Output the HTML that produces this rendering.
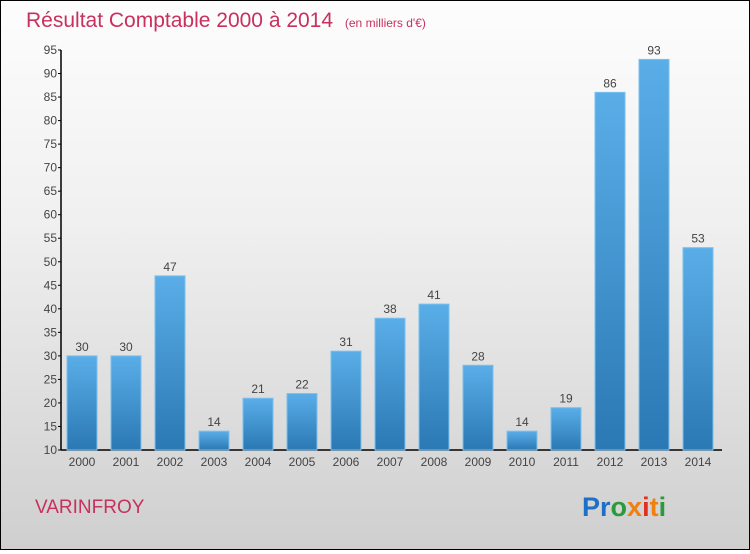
<!DOCTYPE html>
<html><head><meta charset="utf-8"><style>
body{margin:0;width:750px;height:550px;overflow:hidden;font-family:"Liberation Sans",sans-serif}
#wrap{position:relative;width:748px;height:548px;border:1px solid #000;background:linear-gradient(#fdfdfd,#f0f0f0 40%,#cfcfcf)}
</style></head><body>
<div id="wrap">
<svg width="748" height="548" viewBox="1 1 748 548" xmlns="http://www.w3.org/2000/svg">
<defs><linearGradient id="bg" x1="0" y1="0" x2="0" y2="1"><stop offset="0" stop-color="#5aaee8"/><stop offset="1" stop-color="#2a78b4"/></linearGradient></defs>
<text x="26" y="27" font-size="21" fill="#c8305e">Résultat Comptable 2000 à 2014 <tspan font-size="12" dx="6">(en milliers d'€)</tspan></text>
<g id="axes"></g><g id="bars"></g>
<text x="35" y="513" font-size="19" fill="#c8305e">VARINFROY</text>
<text x="582" y="516" font-size="27" font-weight="bold"><tspan fill="#1e6fc8">Pr</tspan><tspan fill="#2a9a3a">o</tspan><tspan fill="#f08010">x</tspan><tspan fill="#e03020">i</tspan><tspan fill="#f08010">t</tspan><tspan fill="#2a9a3a">i</tspan></text>
</svg></div>
<script>
const years=["2000","2001","2002","2003","2004","2005","2006","2007","2008","2009","2010","2011","2012","2013","2014"];
const values=[30,30,47,14,21,22,31,38,41,28,14,19,86,93,53];
const ticks=[10,15,20,25,30,35,40,45,50,55,60,65,70,75,80,85,90,95];
const NS="http://www.w3.org/2000/svg";
const y=v=>450-(v-10)*400/85;
const x=i=>82+i*44;
function mk(t,a,p){const e=document.createElementNS(NS,t);for(const k in a)e.setAttribute(k,a[k]);p.appendChild(e);return e;}
const ax=document.getElementById('axes'),bg=document.getElementById('bars');
const yl=mk('line',{x1:61,x2:61,y1:y(95),y2:450,stroke:'#000','stroke-width':1.5},ax);


const xl=mk('line',{x1:61,x2:722,y1:450,y2:450,stroke:'#000','stroke-width':1.5},ax);


ticks.forEach(t=>{
 mk('line',{x1:58,x2:61,y1:y(t),y2:y(t),stroke:'#000'},ax);
 const tx=mk('text',{x:57,y:y(t)+4,'font-size':12,fill:'#444','text-anchor':'end'},ax);
 tx.textContent=t;
 
 
});
years.forEach((yr,i)=>{
 const v=values[i];
 const r=mk('rect',{x:x(i)-15,y:y(v),width:30,height:450-y(v),fill:'url(#bg)',stroke:'#7cc0ee','stroke-width':1},bg);
 
 
 const l=mk('text',{x:x(i),y:y(v)-5,'font-size':12,fill:'#444','text-anchor':'middle'},bg);
 l.textContent=v;
 
 
 const xt=mk('text',{x:x(i),y:466,'font-size':12,fill:'#444','text-anchor':'middle'},ax);
 xt.textContent=yr;
 
 
});
</script>
</body></html>
